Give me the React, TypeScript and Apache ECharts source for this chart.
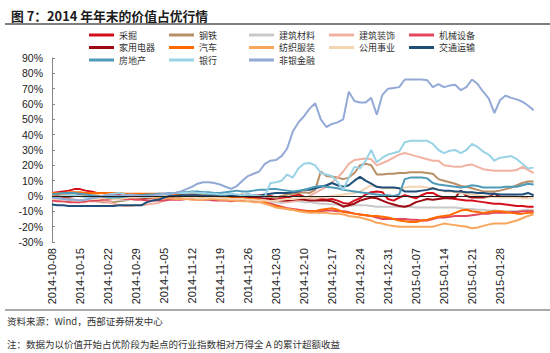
import React, { useEffect, useRef } from "react";
import * as echarts from "echarts";

// categories: trading weekdays from 2014-10-08
const categories: string[] = (() => {
  const out: string[] = [];
  const d = new Date(Date.UTC(2014, 9, 8));
  while (out.length < 87) {
    const wd = d.getUTCDay();
    if (wd !== 0 && wd !== 6) {
      const m = String(d.getUTCMonth() + 1).padStart(2, "0");
      const day = String(d.getUTCDate()).padStart(2, "0");
      out.push(`${d.getUTCFullYear()}-${m}-${day}`);
    }
    d.setUTCDate(d.getUTCDate() + 1);
  }
  return out;
})();
// weekly tick labels shown on the axis
const tickLabels = ["2014-10-08", "2014-10-15", "2014-10-22", "2014-10-29", "2014-11-05", "2014-11-12", "2014-11-19", "2014-11-26", "2014-12-03", "2014-12-10", "2014-12-17", "2014-12-24", "2014-12-31", "2015-01-07", "2015-01-14", "2015-01-21", "2015-01-28"];

const names = ["采掘", "钢铁", "建筑材料", "建筑装饰", "机械设备", "家用电器", "汽车", "纺织服装", "公用事业", "交通运输", "房地产", "银行", "非银金融"];
const colors = ["#D40F1B", "#B88E66", "#C9C9C9", "#F2B2A2", "#E2475E", "#9E0A12", "#FF6A00", "#F7A65B", "#F4D5B3", "#1F4E79", "#4D9BB8", "#99D3E6", "#93A9D6"];

const caijue = [2, 2.5, 3, 3.5, 4.5, 4.5, 3.5, 3, 2, 2, 1.5, 1, 1, 1, 0.5, 0.5, 0.5, 0.5, 1, 1, 0.5, 0.5, 0.5, 0.5, 0, 0.5, 0.5, 0.5, 0, 0, 0, 0, 0, 0, -0.5, -0.5, 0, 0.5, 0.5, 0, -1, -1.5, -1, 0, 1, -0.5, -1, -1.5, -2, -2.5, -2, -3, -4.5, -5, -3, -1.5, 1, 2.5, 3, 2.5, -2, -3, -1, 0.5, -0.5, -1.5, 0.5, 2, 2, 0, -1, -1.5, -2, -2.5, -3, -3, -3.5, -4, -4.5, -5, -5, -5.5, -6, -6.5, -6.5, -7, -7];
const gangtie = [-1, -1.5, -2, -2, -2.5, -3, -3, -3.5, -3.5, -4, -4, -4, -3.5, -3, -2, -1, -0.5, 0, 0, 0.5, 0.5, 1, 1, 1.5, 2, 2, 1.5, 1, 1.5, 1, 0.5, 0.5, 0, 0.5, 1, 0.5, 0, 0, 0, -0.5, -1, 0, 1, 1.5, 2, 2.5, 2, 4, 16, 13, 12.5, 12, 11, 12, 15, 20, 21, 20, 14, 14, 14.5, 14.5, 15, 15, 15.5, 15.5, 15.5, 15, 14.5, 11, 10, 9, 8, 6.5, 6, 5, 4, 3, 3, 3, 3.5, 4.5, 5.5, 7, 8.5, 9.5, 9.5];
const jiancai = [-3, -3, -3.5, -3.5, -4, -4, -3.5, -3, -2.5, -2, -2, -2, -2.5, -2.5, -2, -1.5, -1.5, -1, -1, -1, -1, -1.5, -1.5, -1.5, -2, -2, -2, -2, -1.5, -1.5, -2, -2, -2, -2.5, -2.5, -3, -3, -3.5, -4, -4, -4, -4.5, -4, -3.5, -3.5, -4, -4, -4.5, -5, -5, -5.5, -5.5, -6, -6.5, -6, -6, -6, -6.5, -7, -7, -7, -7, -7, -7, -7, -7.5, -7.5, -7.5, -7.5, -7.5, -7.5, -7.5, -7.5, -8, -8.5, -8.5, -9, -9, -9.5, -9.5, -10, -10, -10, -10, -9.5, -9, -9];
const jianzhuang = [-2, -2.5, -3, -3, -3.5, -4, -4, -3, -3, -3.5, -4, -5, -6, -6.5, -6.5, -6, -6, -5.5, -5, -4.5, -3, -2, -1, 0, 0, -0.5, -1, -0.5, 0, 0, -0.5, -1, -1.5, -1, -0.5, 0, -1, -1.5, -2, -2.5, -3, -3.5, -4, -3.5, -3, -2, 0, 2, 4, 6, 9, 12, 16, 21, 23.5, 24, 24.5, 24, 20, 21.5, 23, 25, 27, 28, 27, 26, 25, 24, 23, 23, 20, 19.5, 19, 19, 20, 20.5, 19, 17.5, 17, 16.5, 16.5, 16.5, 16.5, 17, 19, 17, 15];
const jixie = [-3, -3.5, -3.5, -4, -4, -4, -3.5, -3, -3, -2.5, -2.5, -2, -2, -2, -2, -2.5, -2.5, -3, -3, -3, -3, -2.5, -2.5, -2.5, -2, -2, -2.5, -2.5, -2.5, -3, -3, -3, -3.5, -3, -3, -2.5, -3, -3.5, -4, -5, -6, -7, -8, -8.5, -9, -9.5, -10, -10, -10, -9.5, -9.5, -10, -10, -10.5, -11.5, -12, -12.5, -13, -14, -15, -15, -15, -15, -15, -15.5, -15.5, -16, -16, -15, -14, -14, -13.5, -13, -13, -13, -12.5, -12, -11.5, -11.5, -11, -11, -11, -10.5, -10.5, -10, -10, -10];
const jiadian = [0, 0, -0.5, -0.5, 0, 1, 0.5, 0, -1, -1.5, -1, -0.5, -1, -1.5, -1, -1, -1.5, -1.5, -1, -1, -0.5, -0.5, -1, -1, -0.5, -0.5, 0, 0, -0.5, -0.5, -1, -1, -0.5, -1, -1.5, -1.5, -1, -1, -1.5, -2, -2.5, -3, -3, -2.5, -2, -2.5, -3, -3, -3, -3, -3.5, -5, -7, -6, -5, -3, -2, -1, -1.5, -3, -4.5, -5.5, -6.5, -7, -6, -4, -3, -2, -2.5, -2, -1.5, -1.5, -1, 3.5, 0, -1, -1, -1, -0.5, 1.5, -0.5, -0.5, -0.5, -0.5, -1, -1, null];
const qiche = [2, 2, 2, 2.5, 2.5, 2.5, 2, 2, 2, 2, 2, 2, 2, 1.5, 1.5, 1.5, 1.5, 1.5, 1.5, 1.5, 1.5, 1, 1, 0.5, 0.5, 0, 0, -0.5, -0.5, -1, -1, -1, -1.5, -1.5, -1.5, -2, -2, -2.5, -4, -6, -6.5, -7.5, -8.5, -9, -9.5, -10, -10, -10, -9, -8.5, -8, -9, -10.5, -11, -11.5, -12, -12.5, -13, -13, -13.5, -14, -15, -16, -16.5, -17, -17, -16, -15.5, -14.5, -13.5, -13, -12.5, -11, -9.5, -9, -10, -10.5, -11, -10.5, -10, -10, -10.5, -11, -11.5, -11.5, -11, -11];
const fangzhi = [0.5, 1, 1, 0.5, 0.5, 0, 0, 0.5, 0.5, 0, 0, -0.5, -0.5, 0, 0, -0.5, -0.5, -1, -1, -1, -1.5, -1.5, -2, -2, -2, -2.5, -2.5, -2.5, -2, -2, -2.5, -2.5, -3, -3, -3.5, -3.5, -4, -4, -5, -6, -7.5, -8, -8.5, -9, -10, -10.5, -11, -11, -11, -11, -11.5, -11.5, -12, -13, -13.5, -14, -15, -16, -17.5, -18, -19, -19.5, -20, -20, -20, -20, -20, -20, -20, -19, -18, -18.5, -19, -19.5, -20, -21, -20.5, -19.5, -18.5, -18, -18, -18, -17, -16, -14.5, -13, -12];
const gongyong = [-2, -2, -2.5, -2.5, -3, -3, -2.5, -2, -2, -1.5, -1.5, -2, -2, -1.5, -1, -1, -1, -0.5, -0.5, 0, 0, 0, -0.5, -0.5, -1, -1, -1.5, -1.5, -1, -1, -1.5, -1.5, -2, -2, -2, -2.5, -2.5, -3, -3, -3.5, -3, -2.5, -2, -2, -1.5, -1, -1, -1.5, -1, -0.5, 0, 0.5, 1, 1.5, 2, 3, 5, 7, 6, 5, 5, 5, 5, 5.5, 6, 6, 6, 5.5, 5, 4, 3, 3, 2.5, 2, 1.5, 1, 0.5, 0, -0.5, -0.5, -1, -1, -1, -1, -1.5, -1.5, -1.5];
const jiaotong = [-5.5, -6, -6, -6.5, -6.5, -6.5, -6.5, -6.5, -6.5, -6.5, -6.5, -6.5, -6, -6, -6, -6, -6, -4, -3, -2.5, -1, 0, 0, 0.5, 0.5, 0.5, 0.5, 0, 0.5, 1, 0.5, 0.5, 0, 0, 0.5, 1, 0.5, 0, 1, 1.5, 2, 2, 2, 2.5, 3, 4, 4, 5, 6, 7, 8.5, 7, 6, 7, 10, 12.5, 10, 8, 6, 5.5, 5.5, 5.5, 5, 3, 3, 3, 3.5, 4, 5, 4, 3.5, 3.5, 3, 3, 2.5, 2.5, 2, 2, 1.5, 1.5, 1, 1, 1, 1, 1, 2, 0.5];
const fangdichan = [1, 1.5, 2, 2, 2, 1.5, 1, 0.5, 0, -0.5, -1, -1, -1, -0.5, 0, 0.5, 0.5, 1, 1, 1.5, 1.5, 2, 2, 2.5, 2.5, 3, 3, 2.5, 2.5, 2, 2, 2.5, 3, 3.5, 3, 3, 3.5, 4, 4, 4.5, 4.5, 4, 3.5, 3, 3.5, 4, 5, 6, 6.5, 6, 5.5, 5, 4, 3.5, 3, 2.5, 2, 1.5, 1, 0.5, 0.5, 0, 1, 11, 12, 12, 12, 11.5, 8.5, 7.5, 7, 6.5, 6, 5.5, 6, 7, 6.5, 5.5, 5.5, 5.5, 5.5, 6, 6, 6, 7, 8, 7.5];
const yinhang = [-1, -0.5, 0, 0.5, 0.5, 0, -1, -1.5, -1, 0, 1, 1.5, 2, 1, 0, 0, -0.5, -0.5, 0, 0.5, 1, 1.5, 2, 2, 2, 2.5, 2, 2, 1.5, 1.5, 1, 1, 1.5, 1, 0.5, 1, 0.5, 0, -0.5, 8.5, 9, 10, 14, 12, 18, 21, 21.5, 20, 15, 14, 13, 9, 4, 12, 19, 18, 23, 30, 22, 25, 27, 28, 29, 35, 36, 36, 36, 36, 34, 30, 28, 29.5, 30, 28, 30, 34, 32, 29, 27, 23, 25, 25.5, 26, 24, 21, 18, 18.5];
const feiyin = [-1, -1.5, -2, -2.5, -2.5, -3, -2.5, -1.5, -1, 0, 0.5, 0.5, 0, 0.5, 1, 0.5, 0, 0, 0.5, 1, 1.5, 1.5, 2, 3, 4.5, 6, 8, 9, 9, 8.5, 7.5, 6, 4.7, 6.5, 10, 13, 14.5, 16, 21, 23, 23.5, 26, 31, 42, 48, 52, 57, 60.5, 50, 45, 47, 48, 50, 68, 62, 61, 61, 64, 53, 66, 70, 70.5, 71, 76, 76, 76, 76, 75.5, 71, 73, 71, 72, 72.5, 69, 71, 76, 73, 68, 63.5, 54, 62.5, 65.5, 64, 63, 61.5, 59, 56];

const seriesData = [caijue, gangtie, jiancai, jianzhuang, jixie, jiadian, qiche, fangzhi, gongyong, jiaotong, fangdichan, yinhang, feiyin];

const titleText = "图 7：2014 年年末的价值占优行情";
const sourceText = "资料来源：Wind，西部证券研发中心";
const noteText = "注：数据为以价值开始占优阶段为起点的行业指数相对万得全 A 的累计超额收益";

const CJK = '"Noto Sans CJK SC", "Noto Sans", sans-serif';

export default function App() {
  const ref = useRef<HTMLDivElement>(null);
  useEffect(() => {
    if (!ref.current) return;
    const chart = echarts.init(ref.current, undefined, { renderer: "svg" });
    const option: any = {
      animation: false,
      backgroundColor: "#ffffff",
      title: {
        text: titleText,
        left: 6,
        top: 4,
        textStyle: { fontSize: 12.8, fontWeight: "bold", color: "#1a1a1a", fontFamily: CJK },
      },
      legend: names.map((n, i) => ({
        data: [n],
        left: 89 + 80 * (i % 5),
        top: 30 + 12.5 * Math.floor(i / 5),
        padding: 0,
        itemWidth: 25,
        itemHeight: 3,
        itemGap: 4,
        icon: "rect",
        selectedMode: false,
        textStyle: { fontSize: 9, lineHeight: 10, color: "#333", fontFamily: CJK },
      })),
      grid: { left: 52, right: 16.4, top: 58, bottom: 111 },
      xAxis: {
        type: "category",
        data: categories,
        boundaryGap: false,
        axisLine: { show: false },
        axisTick: { show: false },
        axisLabel: {
          interval: (idx: number, value: string) => tickLabels.includes(value),
          rotate: 90,
          fontSize: 11,
          color: "#222",
          fontFamily: "Arial, 'Liberation Sans'",
          margin: 6,
        },
      },
      yAxis: {
        type: "value",
        min: -30,
        max: 90,
        interval: 10,
        axisLine: { show: true, lineStyle: { color: "#888" } },
        axisTick: { show: true, inside: true, length: 3, lineStyle: { color: "#888" } },
        splitLine: { show: false },
        axisLabel: { formatter: "{value}%", fontSize: 10.5, color: "#222", fontFamily: "Arial, 'Liberation Sans'", margin: 9 },
      },
      series: names.map((n, i) => ({
        name: n,
        type: "line",
        data: seriesData[i],
        symbol: "none",
        lineStyle: { width: 2, color: colors[i] },
        itemStyle: { color: colors[i] },
        ...(i === 0
          ? {
              markLine: {
                silent: true,
                symbol: ["none", "none"],
                label: { show: false },
                lineStyle: { color: "#222", width: 1, type: "solid" },
                data: [{ yAxis: 0 }],
              },
            }
          : {}),
      })),
      graphic: [
        { type: "line", shape: { x1: 5, y1: 24, x2: 550, y2: 24 }, style: { stroke: "#7f7f7f", lineWidth: 2 } },
        { type: "line", shape: { x1: 5, y1: 310, x2: 550, y2: 310 }, style: { stroke: "#555", lineWidth: 1 } },
        { type: "text", left: 7, top: 316, style: { text: sourceText, fill: "#333", font: `9.5px ${CJK}` } },
        { type: "text", left: 7, top: 339, style: { text: noteText, fill: "#333", font: `9.5px ${CJK}` } },
      ],
    };
    chart.setOption(option);
    return () => chart.dispose();
  }, []);
  return (
    <div
      ref={ref}
      style={{ position: "absolute", left: 0, top: 0, width: 550, height: 353, background: "#fff" }}
    />
  );
}
